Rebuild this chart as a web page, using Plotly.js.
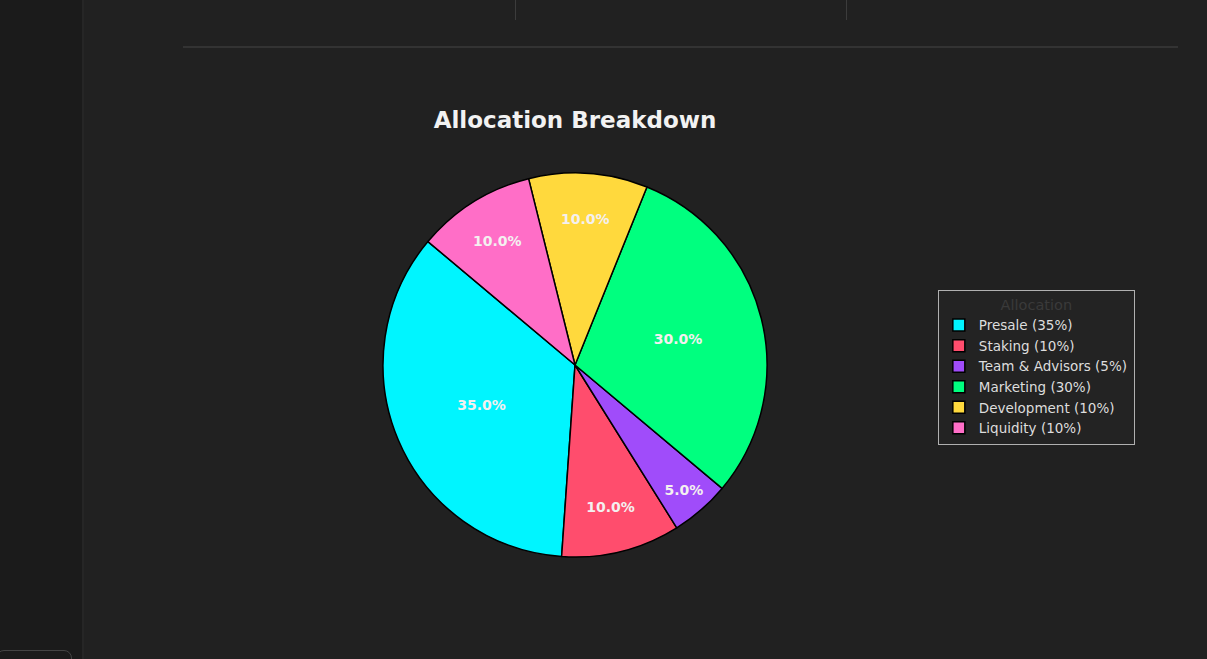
<!DOCTYPE html>
<html>
<head>
<meta charset="utf-8">
<script src="https://cdn.plot.ly/plotly-3.0.1.min.js"></script>
<style>
html,body{margin:0;padding:0;width:1207px;height:659px;overflow:hidden;background:#212121;}
#side{position:absolute;left:0;top:0;width:82px;height:659px;background:#1b1b1b;border-right:2px solid #262626;}
#hline{position:absolute;left:183px;top:46px;width:995px;height:2px;background:#333333;}
.vl{position:absolute;top:0;width:1px;height:20px;background:#3c3c3c;}
#box{position:absolute;left:-4px;top:650px;width:74px;height:30px;border:1px solid #444;border-radius:8px;}
#chart{position:absolute;left:0;top:0;width:1207px;height:659px;}
</style>
</head>
<body>
<div id="side"></div>
<div id="hline"></div>
<div class="vl" style="left:515px"></div>
<div class="vl" style="left:846px"></div>
<div id="box"></div>
<div id="chart"></div>
<script>
const categories = ["Presale", "Staking", "Team & Advisors", "Marketing", "Development", "Liquidity"];
const values = [35, 10, 5, 30, 10, 10];
const colors = ["#00f5ff", "#ff4d6d", "#a04cfa", "#00ff7f", "#ffd93d", "#ff6ec7"];
const chartTitle = "Allocation Breakdown";
const legendTitle = "Allocation";

const legendLabels = categories.map((c, i) => c + " (" + values[i] + "%)");

const trace = {
  type: "pie",
  labels: legendLabels,
  values: values,
  sort: false,
  direction: "counterclockwise",
  rotation: -176,
  marker: {colors: colors, line: {color: "#000000", width: 1.5}},
  texttemplate: "%{percent:.1%}",
  textposition: "inside",
  insidetextorientation: "horizontal",
  textfont: {family: "DejaVu Sans", size: 14, color: "#f4f0f0", weight: "bold"},
  hoverinfo: "label+percent",
  domain: {x: [0.3173, 0.6355], y: [0.1548, 0.7375]}
};

const layout = {
  width: 1207, height: 659,
  margin: {l: 0, r: 0, t: 0, b: 0},
  paper_bgcolor: "rgba(0,0,0,0)",
  plot_bgcolor: "rgba(0,0,0,0)",
  showlegend: true,
  title: {
    text: chartTitle,
    x: 0.4764, xanchor: "center",
    y: 0.818, yanchor: "middle",
    font: {family: "DejaVu Sans", size: 23, color: "#f2f2f2", weight: "bold"}
  },
  legend: {
    x: 0.777, xanchor: "left",
    y: 0.56, yanchor: "top",
    bgcolor: "#232323",
    bordercolor: "#b0b0b0",
    borderwidth: 1,
    font: {family: "DejaVu Sans", size: 13.5, color: "#dddddd"},
    title: {text: legendTitle, side: "top center", font: {family: "DejaVu Sans", size: 14.5, color: "#3a3a3a"}},
    traceorder: "normal"
  }
};

Plotly.newPlot("chart", [trace], layout, {displayModeBar: false, staticPlot: true});
</script>
</body>
</html>
